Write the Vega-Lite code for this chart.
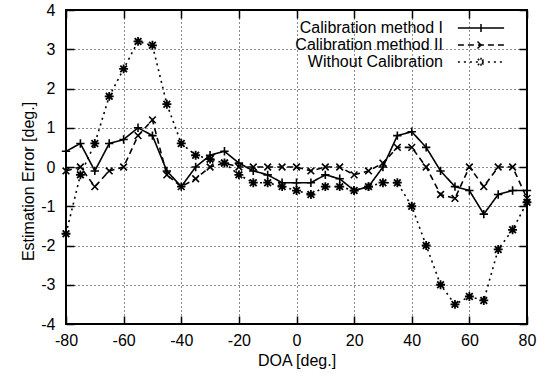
{
  "$schema": "https://vega.github.io/schema/vega-lite/v6.json",
  "width": 461,
  "height": 314,
  "autosize": "none",
  "padding": {"left": 66, "top": 10, "right": 22, "bottom": 53},
  "background": "white",
  "data": {"values": [
    {"doa": -80, "err": 0.4, "series": "Calibration method I"},
    {"doa": -75, "err": 0.6, "series": "Calibration method I"},
    {"doa": -70, "err": -0.1, "series": "Calibration method I"},
    {"doa": -65, "err": 0.6, "series": "Calibration method I"},
    {"doa": -60, "err": 0.7, "series": "Calibration method I"},
    {"doa": -55, "err": 1.0, "series": "Calibration method I"},
    {"doa": -50, "err": 0.8, "series": "Calibration method I"},
    {"doa": -45, "err": -0.1, "series": "Calibration method I"},
    {"doa": -40, "err": -0.5, "series": "Calibration method I"},
    {"doa": -35, "err": 0.0, "series": "Calibration method I"},
    {"doa": -30, "err": 0.3, "series": "Calibration method I"},
    {"doa": -25, "err": 0.4, "series": "Calibration method I"},
    {"doa": -20, "err": 0.1, "series": "Calibration method I"},
    {"doa": -15, "err": -0.1, "series": "Calibration method I"},
    {"doa": -10, "err": -0.2, "series": "Calibration method I"},
    {"doa": -5, "err": -0.4, "series": "Calibration method I"},
    {"doa": 0, "err": -0.4, "series": "Calibration method I"},
    {"doa": 5, "err": -0.4, "series": "Calibration method I"},
    {"doa": 10, "err": -0.2, "series": "Calibration method I"},
    {"doa": 15, "err": -0.3, "series": "Calibration method I"},
    {"doa": 20, "err": -0.6, "series": "Calibration method I"},
    {"doa": 25, "err": -0.5, "series": "Calibration method I"},
    {"doa": 30, "err": 0.0, "series": "Calibration method I"},
    {"doa": 35, "err": 0.8, "series": "Calibration method I"},
    {"doa": 40, "err": 0.9, "series": "Calibration method I"},
    {"doa": 45, "err": 0.5, "series": "Calibration method I"},
    {"doa": 50, "err": -0.1, "series": "Calibration method I"},
    {"doa": 55, "err": -0.5, "series": "Calibration method I"},
    {"doa": 60, "err": -0.6, "series": "Calibration method I"},
    {"doa": 65, "err": -1.2, "series": "Calibration method I"},
    {"doa": 70, "err": -0.7, "series": "Calibration method I"},
    {"doa": 75, "err": -0.6, "series": "Calibration method I"},
    {"doa": 80, "err": -0.6, "series": "Calibration method I"},
    {"doa": -80, "err": -0.1, "series": "Calibration method II"},
    {"doa": -75, "err": 0.0, "series": "Calibration method II"},
    {"doa": -70, "err": -0.5, "series": "Calibration method II"},
    {"doa": -65, "err": -0.1, "series": "Calibration method II"},
    {"doa": -60, "err": 0.0, "series": "Calibration method II"},
    {"doa": -55, "err": 0.8, "series": "Calibration method II"},
    {"doa": -50, "err": 1.2, "series": "Calibration method II"},
    {"doa": -45, "err": -0.2, "series": "Calibration method II"},
    {"doa": -40, "err": -0.5, "series": "Calibration method II"},
    {"doa": -35, "err": -0.3, "series": "Calibration method II"},
    {"doa": -30, "err": 0.0, "series": "Calibration method II"},
    {"doa": -25, "err": 0.1, "series": "Calibration method II"},
    {"doa": -20, "err": 0.0, "series": "Calibration method II"},
    {"doa": -15, "err": 0.0, "series": "Calibration method II"},
    {"doa": -10, "err": 0.0, "series": "Calibration method II"},
    {"doa": -5, "err": 0.0, "series": "Calibration method II"},
    {"doa": 0, "err": 0.0, "series": "Calibration method II"},
    {"doa": 5, "err": -0.1, "series": "Calibration method II"},
    {"doa": 10, "err": 0.0, "series": "Calibration method II"},
    {"doa": 15, "err": 0.0, "series": "Calibration method II"},
    {"doa": 20, "err": -0.2, "series": "Calibration method II"},
    {"doa": 25, "err": -0.1, "series": "Calibration method II"},
    {"doa": 30, "err": 0.1, "series": "Calibration method II"},
    {"doa": 35, "err": 0.5, "series": "Calibration method II"},
    {"doa": 40, "err": 0.5, "series": "Calibration method II"},
    {"doa": 45, "err": 0.0, "series": "Calibration method II"},
    {"doa": 50, "err": -0.7, "series": "Calibration method II"},
    {"doa": 55, "err": -0.8, "series": "Calibration method II"},
    {"doa": 60, "err": 0.0, "series": "Calibration method II"},
    {"doa": 65, "err": -0.5, "series": "Calibration method II"},
    {"doa": 70, "err": 0.0, "series": "Calibration method II"},
    {"doa": 75, "err": 0.0, "series": "Calibration method II"},
    {"doa": 80, "err": -0.8, "series": "Calibration method II"},
    {"doa": -80, "err": -1.7, "series": "Without Calibration"},
    {"doa": -75, "err": -0.2, "series": "Without Calibration"},
    {"doa": -70, "err": 0.6, "series": "Without Calibration"},
    {"doa": -65, "err": 1.8, "series": "Without Calibration"},
    {"doa": -60, "err": 2.5, "series": "Without Calibration"},
    {"doa": -55, "err": 3.2, "series": "Without Calibration"},
    {"doa": -50, "err": 3.1, "series": "Without Calibration"},
    {"doa": -45, "err": 1.6, "series": "Without Calibration"},
    {"doa": -40, "err": 0.6, "series": "Without Calibration"},
    {"doa": -35, "err": 0.3, "series": "Without Calibration"},
    {"doa": -30, "err": 0.2, "series": "Without Calibration"},
    {"doa": -25, "err": 0.1, "series": "Without Calibration"},
    {"doa": -20, "err": -0.2, "series": "Without Calibration"},
    {"doa": -15, "err": -0.4, "series": "Without Calibration"},
    {"doa": -10, "err": -0.4, "series": "Without Calibration"},
    {"doa": -5, "err": -0.5, "series": "Without Calibration"},
    {"doa": 0, "err": -0.6, "series": "Without Calibration"},
    {"doa": 5, "err": -0.7, "series": "Without Calibration"},
    {"doa": 10, "err": -0.5, "series": "Without Calibration"},
    {"doa": 15, "err": -0.5, "series": "Without Calibration"},
    {"doa": 20, "err": -0.6, "series": "Without Calibration"},
    {"doa": 25, "err": -0.5, "series": "Without Calibration"},
    {"doa": 30, "err": -0.4, "series": "Without Calibration"},
    {"doa": 35, "err": -0.4, "series": "Without Calibration"},
    {"doa": 40, "err": -1.0, "series": "Without Calibration"},
    {"doa": 45, "err": -2.0, "series": "Without Calibration"},
    {"doa": 50, "err": -3.0, "series": "Without Calibration"},
    {"doa": 55, "err": -3.5, "series": "Without Calibration"},
    {"doa": 60, "err": -3.3, "series": "Without Calibration"},
    {"doa": 65, "err": -3.4, "series": "Without Calibration"},
    {"doa": 70, "err": -2.1, "series": "Without Calibration"},
    {"doa": 75, "err": -1.6, "series": "Without Calibration"},
    {"doa": 80, "err": -0.9, "series": "Without Calibration"}
  ]},
  "layer": [
    {
      "mark": {"type": "line", "color": "black", "strokeWidth": 1.6},
      "encoding": {
        "x": {"field": "doa", "type": "quantitative",
              "scale": {"domain": [-80, 80], "nice": false, "zero": false},
              "axis": {"values": [-80, -60, -40, -20, 0, 20, 40, 60, 80], "title": "DOA [deg.]", "orient": "bottom", "labelFlush": false, "labelExpr": "replace(datum.label, '−', '-')"}},
        "y": {"field": "err", "type": "quantitative",
              "scale": {"domain": [-4, 4], "nice": false, "zero": false},
              "axis": {"values": [-4, -3, -2, -1, 0, 1, 2, 3, 4], "title": "Estimation Error [deg.]", "titleY": 171, "orient": "left", "labelFlush": false, "labelExpr": "replace(datum.label, '−', '-')"}},
        "strokeDash": {"field": "series", "type": "nominal",
          "scale": {"domain": ["Calibration method I", "Calibration method II", "Without Calibration"], "range": [[1, 0], [6, 4], [2, 4]]},
          "legend": {
            "title": null, "orient": "none", "legendX": 407, "legendY": 10,
            "padding": 0, "rowPadding": 1, "symbolSize": 196, "symbolStrokeWidth": 1.5,
            "symbolStrokeColor": "black", "symbolFillColor": "transparent", "labelAlign": "right", "labelOffset": -46,
            "labelFont": "Liberation Sans", "labelFontSize": 16, "labelColor": "black", "labelLimit": 300,
            "encode": {"symbols": {"update": {
              "shape": {"signal": "datum.value === 'Calibration method I' ? 'M-3.3,0H3.3M0,-0.57V0.57' : datum.value === 'Calibration method II' ? 'M-3.3,0H3.3M-0.5,-0.5L0.5,0.5M-0.5,0.5L0.5,-0.5' : 'M-3.3,0H3.3M0,-0.6V0.6M-0.45,-0.45L0.45,0.45M-0.45,0.45L0.45,-0.45'"},
              "stroke": {"value": "black"},
              "fill": {"value": "transparent"}
            }}}
          }}
      }
    },
    {
      "transform": [{"filter": "datum.series === 'Calibration method I'"}],
      "mark": {"type": "point", "filled": false, "color": "black", "strokeWidth": 1.6, "opacity": 1, "size": 70, "shape": "M-1,0H1M0,-1V1"},
      "encoding": {
        "x": {"field": "doa", "type": "quantitative", "scale": {"domain": [-80, 80], "nice": false, "zero": false}, "axis": null},
        "y": {"field": "err", "type": "quantitative", "scale": {"domain": [-4, 4], "nice": false, "zero": false}, "axis": null}
      }
    },
    {
      "transform": [{"filter": "datum.series === 'Calibration method II'"}],
      "mark": {"type": "point", "filled": false, "color": "black", "strokeWidth": 1.6, "opacity": 1, "size": 70, "shape": "M-0.8,-0.8L0.8,0.8M-0.8,0.8L0.8,-0.8"},
      "encoding": {
        "x": {"field": "doa", "type": "quantitative", "scale": {"domain": [-80, 80], "nice": false, "zero": false}, "axis": null},
        "y": {"field": "err", "type": "quantitative", "scale": {"domain": [-4, 4], "nice": false, "zero": false}, "axis": null}
      }
    },
    {
      "transform": [{"filter": "datum.series === 'Without Calibration'"}],
      "mark": {"type": "point", "filled": false, "color": "black", "strokeWidth": 1.8, "opacity": 1, "size": 80, "shape": "M-1,0H1M0,-1V1M-0.75,-0.75L0.75,0.75M-0.75,0.75L0.75,-0.75"},
      "encoding": {
        "x": {"field": "doa", "type": "quantitative", "scale": {"domain": [-80, 80], "nice": false, "zero": false}, "axis": null},
        "y": {"field": "err", "type": "quantitative", "scale": {"domain": [-4, 4], "nice": false, "zero": false}, "axis": null}
      }
    },
    {
      "mark": {"type": "point", "opacity": 0},
      "encoding": {
        "x": {"field": "doa", "type": "quantitative", "scale": {"domain": [-80, 80], "nice": false, "zero": false},
              "axis": {"orient": "top", "labels": false, "title": null, "grid": false, "values": [-80, -60, -40, -20, 0, 20, 40, 60, 80]}},
        "y": {"field": "err", "type": "quantitative", "scale": {"domain": [-4, 4], "nice": false, "zero": false},
              "axis": {"orient": "right", "labels": false, "title": null, "grid": false, "values": [-4, -3, -2, -1, 0, 1, 2, 3, 4]}}
      }
    }
  ],
  "resolve": {"axis": {"x": "independent", "y": "independent"}},
  "config": {
    "view": {"stroke": "black", "strokeWidth": 2},
    "font": "Liberation Sans",
    "axis": {
      "domain": false,
      "grid": true, "gridColor": "black", "gridDash": [1, 3], "gridWidth": 1, "gridOpacity": 0.9,
      "ticks": true, "tickSize": -8, "tickColor": "black", "tickWidth": 1.5,
      "labelFont": "Liberation Sans", "labelFontSize": 16, "labelColor": "black",
      "titleFont": "Liberation Sans", "titleFontSize": 16, "titleFontWeight": "normal", "titleColor": "black"
    },
    "axisX": {"labelPadding": 16, "titlePadding": 4},
    "axisY": {"labelPadding": 19, "titlePadding": 4}
  }
}
